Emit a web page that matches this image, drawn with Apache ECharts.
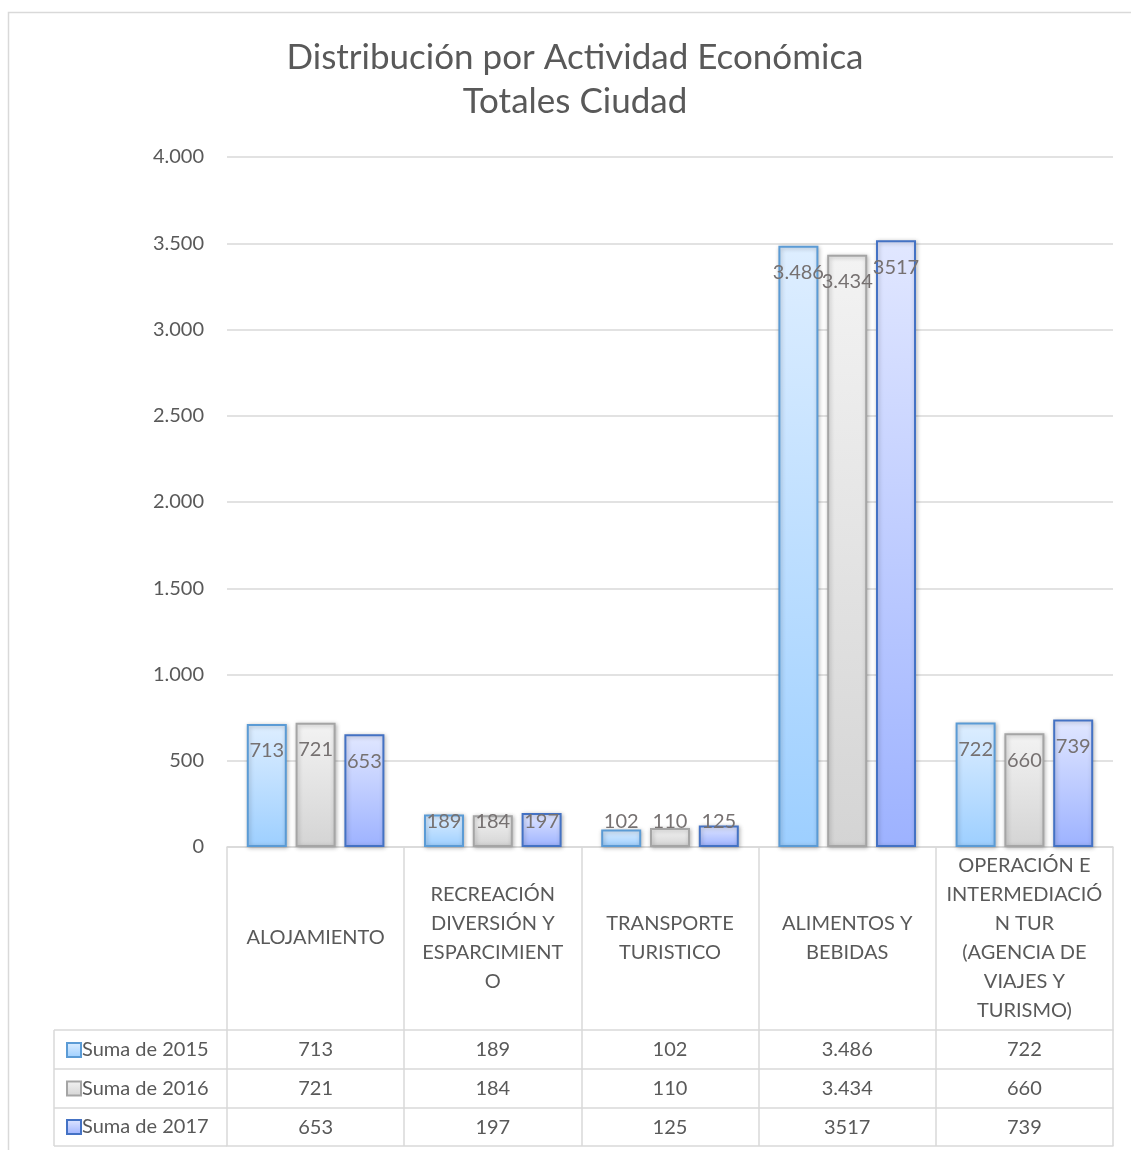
<!DOCTYPE html>
<html><head><meta charset="utf-8">
<script src="https://cdn.jsdelivr.net/npm/echarts/dist/echarts.min.js"></script>
<style>html,body{margin:0;padding:0;background:#fff}#c{width:1131px;height:1150px}</style>
</head><body><div id="c"></div>
<script>
// ---- data ----
const categories = ['ALOJAMIENTO', 'RECREACIÓN\nDIVERSIÓN Y\nESPARCIMIENT\nO', 'TRANSPORTE\nTURISTICO', 'ALIMENTOS Y\nBEBIDAS', 'OPERACIÓN E\nINTERMEDIACIÓ\nN TUR\n(AGENCIA DE\nVIAJES Y\nTURISMO)'];
const seriesNames = ['Suma de 2015', 'Suma de 2016', 'Suma de 2017'];
const values2015 = [713, 189, 102, 3486, 722];
const values2016 = [721, 184, 110, 3434, 660];
const values2017 = [653, 197, 125, 3517, 739];
const useThousandsSep = [true, true, false];
const yMin = 0, yMax = 4000, yInterval = 500;

// ---- styles / layout ----
const FONT = 'Lato, "Open Sans", sans-serif';
const TXT = '#595959';
const LINE = '#d9d9d9';
const W = 1131, H = 1150;
const gridLeft = 227, gridRight = 18, gridTop = 157, gridBottom = 303;
const axisY = H - gridBottom;           // 847
const rowOffsets = [183, 222, 261, 299]; // table horizontal lines below axis
const tableLeft = 54;

const palettes = [
  {top: '#deeeff', bottom: '#9dcfff', border: '#5b9bd5'},
  {top: '#f3f3f3', bottom: '#d4d4d4', border: '#a5a5a5'},
  {top: '#e1e7ff', bottom: '#9db2ff', border: '#4472c4'}
];

function fmt(v, sep) {
  const s = String(v);
  return sep ? s.replace(/\B(?=(\d{3})+(?!\d))/g, '.') : s;
}

const allValues = [values2015, values2016, values2017];

const series = allValues.map((vals, i) => ({
  name: seriesNames[i],
  type: 'bar',
  xAxisIndex: 0,
  barWidth: 40,
  barGap: '22%',
  data: vals.map(v => v < 300 ? {value: v, label: {position: 'insideBottom', distance: 15}} : v),
  itemStyle: {
    color: new echarts.graphic.LinearGradient(0, 0, 0, 1, [
      {offset: 0, color: palettes[i].top},
      {offset: 1, color: palettes[i].bottom}
    ]),
    borderColor: palettes[i].border,
    borderWidth: 2,
    shadowBlur: 4,
    shadowColor: 'rgba(0,0,0,0.25)',
    shadowOffsetX: 1,
    shadowOffsetY: 1
  },
  label: {
    show: true,
    position: 'insideTop',
    distance: 17,
    fontFamily: FONT,
    fontSize: 20,
    color: '#767171',
    formatter: p => fmt(p.value, useThousandsSep[i])
  },
  emphasis: {disabled: true}
}));

const baseLabel = {fontFamily: FONT, fontSize: 20, color: TXT, interval: 0, hideOverlap: false};

const xAxes = [
  {
    type: 'category', data: categories, position: 'bottom', gridIndex: 0,
    axisLine: {show: true, lineStyle: {color: LINE, width: 1.5}},
    axisTick: {show: true, length: rowOffsets[3], lineStyle: {color: LINE, width: 1.5}},
    axisLabel: Object.assign({}, baseLabel, {margin: 91, verticalAlign: 'middle', lineHeight: 29, align: 'center'})
  }
];
allValues.forEach((vals, i) => {
  xAxes.push({
    type: 'category', position: 'bottom', gridIndex: 0, offset: rowOffsets[i],
    data: vals.map(v => fmt(v, useThousandsSep[i])),
    axisLine: {show: true, lineStyle: {color: LINE, width: 1.5}},
    axisTick: {show: false},
    axisLabel: Object.assign({}, baseLabel, {margin: 20, verticalAlign: 'middle'})
  });
});
xAxes.push({
  type: 'category', position: 'bottom', gridIndex: 0, offset: rowOffsets[3],
  data: categories,
  axisLine: {show: true, lineStyle: {color: LINE, width: 1.5}},
  axisTick: {show: false}, axisLabel: {show: false}
});

// left column of the data table (legend keys)
const graphics = [
  {type: 'rect', shape: {x: 8.5, y: 12.5, width: 1300, height: 1300}, style: {fill: 'none', stroke: LINE, lineWidth: 1.5}, silent: true, z: -10},
  {type: 'line', shape: {x1: tableLeft, y1: axisY + rowOffsets[0], x2: tableLeft, y2: axisY + rowOffsets[3]}, style: {stroke: LINE, lineWidth: 1.5}, silent: true}
];
rowOffsets.forEach(o => {
  graphics.push({type: 'line', shape: {x1: tableLeft, y1: axisY + o, x2: gridLeft, y2: axisY + o}, style: {stroke: LINE, lineWidth: 1.5}, silent: true});
});

const option = {
  backgroundColor: '#fff',
  animation: false,
  title: {
    text: 'Distribución por Actividad Económica\nTotales Ciudad',
    left: 570, top: 31, textAlign: 'center',
    textStyle: {fontFamily: FONT, fontSize: 35, fontWeight: 'normal', color: TXT, lineHeight: 44}
  },
  legend: {
    orient: 'vertical', left: 61, top: axisY + rowOffsets[0] + 5,
    itemWidth: 14, itemHeight: 14, itemGap: 18.5,
    icon: 'rect',
    textStyle: {fontFamily: FONT, fontSize: 20, color: TXT, padding: [0, 0, 0, -4], lineHeight: 20},
    data: seriesNames, selectedMode: false
  },
  grid: {left: gridLeft, right: gridRight, top: gridTop, bottom: gridBottom, containLabel: false},
  xAxis: xAxes,
  yAxis: {
    type: 'value', min: yMin, max: yMax, interval: yInterval,
    axisLine: {show: false}, axisTick: {show: false},
    splitLine: {lineStyle: {color: LINE, width: 1.5}},
    axisLabel: {fontFamily: FONT, fontSize: 20, color: TXT, margin: 23, formatter: v => fmt(v, true)}
  },
  graphic: graphics,
  series: series
};

const chart = echarts.init(document.getElementById('c'), null, {renderer: 'canvas'});
chart.setOption(option);
</script>
</body></html>
